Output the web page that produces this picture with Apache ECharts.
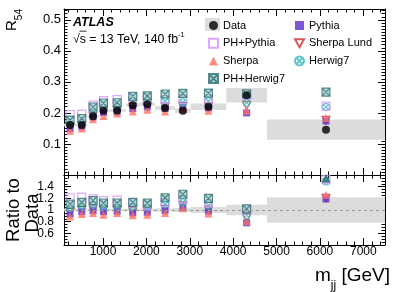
<!DOCTYPE html>
<html><head><meta charset="utf-8">
<script src="https://cdn.jsdelivr.net/npm/echarts@6/dist/echarts.min.js"></script>
<style>html,body{margin:0;padding:0;background:#fff}#c{width:407px;height:292px}</style>
</head><body><div id="c"></div>
<script>
// ---- bins (mjj, GeV) ----
const binLo = [100, 380, 640, 900, 1120, 1530, 1840, 2200, 2660, 3020, 3840, 4780];
const binHi = [380, 640, 900, 1120, 1530, 1840, 2200, 2660, 3020, 3840, 4780, 7500];
// ---- top panel: R54 ----
const dataVal   = [0.161, 0.161, 0.189, 0.207, 0.208, 0.225, 0.228, 0.216, 0.207, 0.220, 0.257, 0.146];
const dataErr   = [0.004, 0.004, 0.004, 0.004, 0.004, 0.005, 0.005, 0.006, 0.007, 0.0105, 0.023, 0.0325];
const pythia    = [0.150, 0.156, 0.187, 0.201, 0.204, 0.214, 0.219, 0.214, 0.217, 0.216, 0.200, 0.174];
const phPythia  = [0.195, 0.196, 0.225, 0.240, 0.243, 0.252, 0.246, 0.244, 0.244, 0.246, 0.257, 0.222];
const sherpaLund= [0.155, 0.159, 0.189, 0.205, 0.208, 0.218, 0.221, 0.218, 0.221, 0.220, 0.224, 0.176];
const sherpa    = [0.143, 0.150, 0.180, 0.190, 0.198, 0.205, 0.210, 0.205, 0.213, 0.207, 0.208, 0.184];
const herwig7   = [0.167, 0.172, 0.206, 0.219, 0.223, 0.239, 0.239, 0.238, 0.234, 0.238, 0.234, 0.219];
const phHerwig7 = [0.177, 0.182, 0.219, 0.232, 0.233, 0.254, 0.255, 0.261, 0.263, 0.264, 0.262, 0.267];
// ---- bottom panel: ratio to data ----
const dataRelErr     = [0.025, 0.025, 0.02, 0.02, 0.02, 0.022, 0.022, 0.028, 0.035, 0.05, 0.09, 0.22];
const pythiaRatio    = [0.93, 0.97, 0.99, 0.97, 0.98, 0.95, 0.96, 0.99, 1.05, 0.98, 0.78, 1.19];
const phPythiaRatio  = [1.21, 1.22, 1.19, 1.16, 1.17, 1.12, 1.08, 1.13, 1.18, 1.12, 1.00, 1.52];
const sherpaLundRatio= [0.96, 0.99, 1.00, 0.99, 1.00, 0.97, 0.97, 1.01, 1.07, 1.00, 0.87, 1.20];
const sherpaRatio    = [0.89, 0.93, 0.95, 0.92, 0.95, 0.91, 0.92, 0.95, 1.03, 0.94, 0.81, 1.26];
const herwig7Ratio   = [1.04, 1.07, 1.09, 1.06, 1.07, 1.06, 1.05, 1.10, 1.13, 1.08, 0.91, 1.49];
const phHerwig7Ratio = [1.10, 1.13, 1.16, 1.12, 1.12, 1.13, 1.12, 1.21, 1.27, 1.20, 1.02, 1.83];
// ---- tick labels ----
const xTicks = [1000, 2000, 3000, 4000, 5000, 6000, 7000];
const topYTicks = [0.1, 0.2, 0.3, 0.4, 0.5];
const ratioYTicks = [0.6, 0.8, 1, 1.2, 1.4];

const X_MIN = 100, X_MAX = 7500, TOP_MIN = 0, TOP_MAX = 0.535, R_MIN = 0.4, R_MAX = 1.6;
const FONT = '"Liberation Sans", Arial, Helvetica, sans-serif';

const xMinor = []; for (let v = 200; v < 7500; v += 200) if (v % 1000) xMinor.push(v);
const topMinor = []; for (let i = 1; i <= 53; i++) if (i % 10) topMinor.push(i / 100);
const rMinor = []; for (let i = 9; i <= 31; i++) if (i % 4) rMinor.push(i / 20);

const centers = binLo.map((l, i) => (l + binHi[i]) / 2);

function xAx(grid, pos, ticks, len, showLine, labels) {
  return { type: 'value', gridIndex: grid, position: pos, min: X_MIN, max: X_MAX,
    axisLine: { show: showLine, onZero: false, lineStyle: { color: '#000', width: 1 } },
    axisTick: { show: true, inside: true, length: len, customValues: ticks, lineStyle: { color: '#000', width: 1 } },
    axisLabel: labels ? { show: true, customValues: xTicks, margin: 1, hideOverlap: false, showMinLabel: true, showMaxLabel: true,
      formatter: v => String(v), fontFamily: FONT, fontSize: 12, color: '#000' } : { show: false },
    splitLine: { show: false } };
}
function yAx(grid, pos, mn, mx, ticks, len, showLine, labels, lab) {
  return { type: 'value', gridIndex: grid, position: pos, min: mn, max: mx,
    axisLine: { show: showLine, onZero: false, lineStyle: { color: '#000', width: 1 } },
    axisTick: ticks ? { show: true, inside: true, length: len, customValues: ticks, lineStyle: { color: '#000', width: 1 } } : { show: false },
    axisLabel: labels ? Object.assign({ show: true, customValues: labels, hideOverlap: false,
      showMinLabel: true, showMaxLabel: true,
      formatter: v => String(v), fontFamily: FONT, color: '#000' }, lab) : { show: false },
    splitLine: { show: false } };
}
// split the ratio labels over two axes so that none is dropped for overlapping
const ratioLabelsA = ratioYTicks.filter((v, i) => i % 2 === 0);
const ratioLabelsB = ratioYTicks.filter((v, i) => i % 2 === 1);

const xAxes = [
  xAx(0, 'bottom', xTicks, 7, true, false), xAx(0, 'top', xTicks, 7, true, false),
  xAx(0, 'bottom', xMinor, 3.5, false, false), xAx(0, 'top', xMinor, 3.5, false, false),
  xAx(1, 'bottom', xTicks, 7, true, true), xAx(1, 'top', xTicks, 7, true, false),
  xAx(1, 'bottom', xMinor, 3.5, false, false), xAx(1, 'top', xMinor, 3.5, false, false)
];
const rLab = { fontSize: 12, margin: 10 };
const yAxes = [
  yAx(0, 'left', TOP_MIN, TOP_MAX, topYTicks, 7, true, topYTicks, { fontSize: 13, margin: 3 }),
  yAx(0, 'right', TOP_MIN, TOP_MAX, topYTicks, 7, true, null),
  yAx(0, 'left', TOP_MIN, TOP_MAX, topMinor, 3.5, false, null),
  yAx(0, 'right', TOP_MIN, TOP_MAX, topMinor, 3.5, false, null),
  yAx(1, 'left', R_MIN, R_MAX, ratioYTicks, 7, true, ratioLabelsA, rLab),
  yAx(1, 'right', R_MIN, R_MAX, ratioYTicks, 7, true, null),
  yAx(1, 'left', R_MIN, R_MAX, rMinor, 3.5, false, ratioLabelsB, rLab),
  yAx(1, 'right', R_MIN, R_MAX, rMinor, 3.5, false, null)
];

const HERWIG_PATH = 'path://M5,0A5,5,0,1,1,4.99,0ZM1.6,1.6L8.4,8.4M8.4,1.6L1.6,8.4';
const SQX_PATH = 'path://M0,0L10,0L10,10L0,10ZM0,0L10,10M10,0L0,10';
const DTRI_PATH = 'path://M0,0L10,0L5,9Z';
const styles = {
  'Pythia':      { symbol: 'rect', symbolSize: 7, itemStyle: { color: '#5a2ecc', borderColor: '#5a2ecc', borderWidth: 0 } },
  'PH+Pythia':   { symbol: 'rect', symbolSize: 8, itemStyle: { color: 'rgba(255,255,255,0)', borderColor: '#d391ff', borderWidth: 1.2 } },
  'Sherpa Lund': { symbol: DTRI_PATH, symbolSize: 8, itemStyle: { color: 'rgba(255,255,255,0)', borderColor: '#cc3030', borderWidth: 1.1 } },
  'Sherpa':      { symbol: 'triangle', symbolSize: 8, itemStyle: { color: '#ff6f61', borderWidth: 0 } },
  'Herwig7':     { symbol: HERWIG_PATH, symbolSize: 7, itemStyle: { color: 'rgba(255,255,255,0)', borderColor: '#33b5be', borderWidth: 1.2 } },
  'PH+Herwig7':  { symbol: SQX_PATH, symbolSize: 8, itemStyle: { color: '#a9cfd0', borderColor: '#2e6e70', borderWidth: 1.1 } }
};
const topSets = [['Sherpa Lund', sherpaLund], ['Pythia', pythia], ['Sherpa', sherpa], ['Herwig7', herwig7], ['PH+Pythia', phPythia], ['PH+Herwig7', phHerwig7]];
const ratioSets = [['Sherpa Lund', sherpaLundRatio], ['Pythia', pythiaRatio], ['Sherpa', sherpaRatio], ['Herwig7', herwig7Ratio], ['PH+Pythia', phPythiaRatio], ['PH+Herwig7', phHerwig7Ratio]];

function bandRender(params, api) {
  const a = api.coord([api.value(0), api.value(2)]);
  const b = api.coord([api.value(1), api.value(3)]);
  return { type: 'rect', shape: { x: a[0], y: a[1], width: b[0] - a[0], height: b[1] - a[1] }, style: { fill: '#dcdcdc' } };
}

const series = [];
series.push({ type: 'custom', name: 'band', xAxisIndex: 0, yAxisIndex: 0, z: 1, silent: true, renderItem: bandRender,
  encode: { x: [0, 1], y: [2, 3] },
  data: binLo.map((l, i) => [l, binHi[i], dataVal[i] + dataErr[i], dataVal[i] - dataErr[i]]) });
series.push({ type: 'custom', name: 'rband', xAxisIndex: 4, yAxisIndex: 4, z: 1, silent: true, renderItem: bandRender,
  encode: { x: [0, 1], y: [2, 3] },
  data: binLo.map((l, i) => [l, binHi[i], 1 + dataRelErr[i], 1 - dataRelErr[i]]),
  markLine: { silent: true, symbol: 'none', label: { show: false }, data: [{ yAxis: 1 }],
    lineStyle: { type: [3, 3], color: '#999', width: 1 } } });
topSets.forEach(([n, arr]) => {
  series.push(Object.assign({ type: 'scatter', name: n, xAxisIndex: 0, yAxisIndex: 0, z: 3,
    data: arr.map((v, i) => [centers[i], v]) }, styles[n]));
});
ratioSets.forEach(([n, arr]) => {
  series.push(Object.assign({ type: 'scatter', name: n, xAxisIndex: 4, yAxisIndex: 4, z: 3,
    data: arr.map((v, i) => v > R_MAX - 0.04 ? { value: [centers[i], R_MAX - 0.06], symbol: 'triangle', symbolSize: 7,
      itemStyle: { color: styles[n].itemStyle.borderColor || styles[n].itemStyle.color } } : [centers[i], v]) }, styles[n]));
});
series.push({ type: 'scatter', name: 'Data', xAxisIndex: 0, yAxisIndex: 0, z: 5, symbol: 'circle', symbolSize: 8,
  itemStyle: { color: '#000' }, data: dataVal.map((v, i) => [centers[i], v]) });

const legendBase = { orient: 'vertical', itemWidth: 9, itemHeight: 9, itemGap: 5.7, padding: 0,
  textStyle: { fontFamily: FONT, fontSize: 11, color: '#000', lineHeight: 12 }, selectedMode: false };

const option = {
  animation: false,
  grid: [{ left: 64, top: 9, width: 321, height: 166 }, { left: 64, top: 175, width: 321, height: 70 }],
  xAxis: xAxes, yAxis: yAxes, series: series,
  legend: [
    Object.assign({ left: 208, top: 19.5, data: ['Data', 'PH+Pythia', 'Sherpa', 'PH+Herwig7'] }, legendBase),
    Object.assign({ left: 294, top: 19.5, data: ['Pythia', 'Sherpa Lund', 'Herwig7'] }, legendBase)
  ],
  graphic: [
    { type: 'rect', left: 205, top: 18, z: -1, shape: { width: 15, height: 13 }, style: { fill: '#dcdcdc' } },
    { type: 'text', x: 73, y: 22.5, style: { text: 'ATLAS', font: 'italic bold 12.5px ' + FONT, fill: '#000', verticalAlign: 'middle' } },
    { type: 'text', x: 73, y: 38, style: { text: '{a|√s = 13 TeV, 140 fb}{b|-1}', verticalAlign: 'middle',
      rich: { a: { fontFamily: FONT, fontSize: 12.3, fill: '#000', lineHeight: 15, verticalAlign: 'bottom' },
              b: { fontFamily: FONT, fontSize: 7.5, fill: '#000', lineHeight: 15, verticalAlign: 'top' } } } },
    { type: 'line', shape: { x1: 79.5, y1: 31.2, x2: 86.5, y2: 31.2 }, style: { stroke: '#000', lineWidth: 0.8 } },
    { type: 'text', x: 14, y: 20, rotation: Math.PI / 2, style: { text: '{r|R}{s|54}', align: 'center', verticalAlign: 'middle',
      rich: { r: { fontFamily: FONT, fontSize: 15, fill: '#000', lineHeight: 20, verticalAlign: 'top' },
              s: { fontFamily: FONT, fontSize: 10, fill: '#000', lineHeight: 20, verticalAlign: 'bottom' } } } },
    { type: 'text', x: 13.5, y: 210, rotation: Math.PI / 2, style: { text: 'Ratio to', font: '18.5px ' + FONT, fill: '#000', align: 'center', verticalAlign: 'middle' } },
    { type: 'text', x: 32.5, y: 213, rotation: Math.PI / 2, style: { text: 'Data', font: '18.5px ' + FONT, fill: '#000', align: 'center', verticalAlign: 'middle' } },
    { type: 'text', x: 315, y: 279, style: { text: '{m|m}{s|jj}{m| [GeV]}', verticalAlign: 'middle',
      rich: { m: { fontFamily: FONT, fontSize: 19, fill: '#000', lineHeight: 26, verticalAlign: 'top' },
              s: { fontFamily: FONT, fontSize: 12, fill: '#000', lineHeight: 26, verticalAlign: 'bottom' } } } }
  ]
};
const chart = echarts.init(document.getElementById('c'), null, { renderer: 'canvas' });
chart.setOption(option);
</script></body></html>
